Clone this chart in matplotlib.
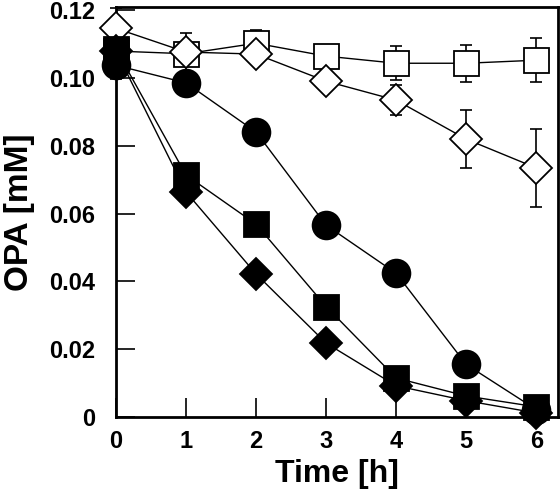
import matplotlib
matplotlib.use("Agg")
import matplotlib.pyplot as plt

plt.rcParams['font.family'] = ['Liberation Sans', 'DejaVu Sans']
plt.rcParams['font.weight'] = 'bold'

time_h = [0, 1, 2, 3, 4, 5, 6]

open_square = [0.108, 0.1072, 0.1103, 0.1065, 0.1044, 0.1044, 0.1053]
open_square_err = [0.003, 0.0062, 0.004, 0.0012, 0.005, 0.0055, 0.0065]

open_diamond = [0.1147, 0.1077, 0.1071, 0.0991, 0.0935, 0.082, 0.0735]
open_diamond_err = [0.006, 0.001, 0.001, 0.001, 0.0045, 0.0086, 0.0115]

filled_circle = [0.1038, 0.0986, 0.0841, 0.0566, 0.0424, 0.0155, 0.0022]
filled_circle_err = [0.004, 0.0005, 0.0005, 0.0005, 0.0005, 0.0005, 0.0005]

filled_square = [0.1085, 0.0714, 0.0569, 0.0326, 0.0115, 0.0062, 0.003]
filled_diamond = [0.108, 0.0664, 0.0422, 0.0218, 0.0092, 0.0048, 0.0012]

x_ticks = [0, 1, 2, 3, 4, 5, 6]
y_ticks = [0, 0.02, 0.04, 0.06, 0.08, 0.10, 0.12]
y_tick_labels = ['0', '0.02', '0.04', '0.06', '0.08', '0.10', '0.12']

fig = plt.figure(figsize=(5.6, 4.95), dpi=100)
ax = fig.add_axes([116/560, (495-417)/495, (558-116)/560, (417-7)/495])

ekw = dict(ecolor='black', elinewidth=1.2, capsize=4, capthick=1.2, fmt='none', zorder=1)
ax.errorbar(time_h, open_square, yerr=open_square_err, **ekw)
ax.errorbar(time_h, open_diamond, yerr=open_diamond_err, **ekw)
ax.errorbar(time_h, filled_circle, yerr=filled_circle_err, **ekw)

lkw = dict(color='black', linewidth=1.0, markeredgecolor='black', markeredgewidth=1.3)
ax.plot(time_h, open_square, marker='s', markersize=18, markerfacecolor='white', zorder=3, **lkw)
ax.plot(time_h, open_diamond, marker='D', markersize=16, markerfacecolor='white', zorder=4, **lkw)
ax.plot(time_h, filled_circle, marker='o', markersize=20, markerfacecolor='black', zorder=5, **lkw)
ax.plot(time_h, filled_square, marker='s', markersize=18, markerfacecolor='black', zorder=5, **lkw)
ax.plot(time_h, filled_diamond, marker='D', markersize=16, markerfacecolor='black', zorder=6, **lkw)

ax.set_xlim(0, 6.31)
ax.set_ylim(0, 0.121)
ax.set_xticks(x_ticks)
ax.set_yticks(y_ticks)
ax.set_yticklabels(y_tick_labels)
ax.tick_params(direction='in', length=14, width=1.2, labelsize=17)
ax.tick_params(axis='x', pad=9)
ax.tick_params(axis='y', pad=15)
for lab in ax.get_xticklabels() + ax.get_yticklabels():
    lab.set_fontweight('bold')
for sp in ax.spines.values():
    sp.set_linewidth(2)
    sp.set_clip_on(False)

ax.set_xlabel('Time [h]', fontsize=23, fontweight='bold', labelpad=5)
ax.set_ylabel('OPA [mM]', fontsize=24, fontweight='bold', labelpad=10)

for artist in ax.lines:
    artist.set_clip_on(False)

fig.savefig('out.png', dpi=100)
